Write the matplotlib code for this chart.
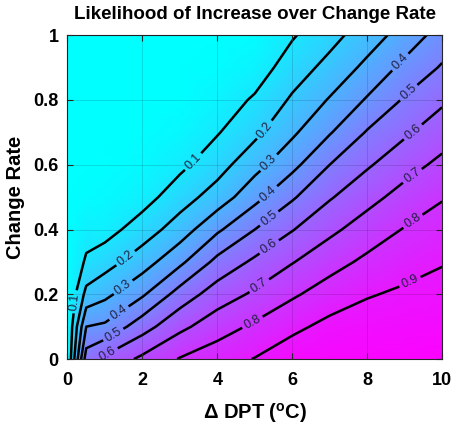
import matplotlib
matplotlib.use("Agg")
import matplotlib.pyplot as plt
import numpy as np

# delta DPT columns and change-rate rows of the likelihood grid
dpt = [0, 0.5, 1, 2, 3, 4, 5, 6, 7, 8, 9, 10]
rate = [0, 0.1, 0.2, 0.3, 0.4, 0.5, 0.6, 0.7, 0.8, 0.9, 1.0]

# likelihood, one list per dpt column (rate 0 -> 1)
lik_0 = [0, 0, 0, 0, 0, 0, 0, 0, 0, 0, 0]
lik_05 = [0.55, 0.40, 0.23, 0.115, 0.06, 0.01, 0, 0, 0, 0, 0]
lik_1 = [0.625, 0.418, 0.275, 0.16, 0.06, 0.02, 0, 0, 0, 0, 0]
lik_2 = [0.722, 0.558, 0.386, 0.253, 0.15, 0.059, 0.02, 0, 0, 0, 0]
lik_3 = [0.806, 0.676, 0.542, 0.377, 0.247, 0.156, 0.076, 0.03, 0, 0, 0]
lik_4 = [0.856, 0.756, 0.65, 0.529, 0.383, 0.244, 0.16, 0.093, 0.045, 0.01, 0]
lik_5 = [0.904, 0.817, 0.716, 0.619, 0.5, 0.368, 0.265, 0.177, 0.113, 0.048, 0.01]
lik_6 = [0.96, 0.877, 0.786, 0.695, 0.595, 0.488, 0.371, 0.283, 0.214, 0.15, 0.09]
lik_7 = [0.97, 0.928, 0.846, 0.763, 0.678, 0.591, 0.5, 0.392, 0.308, 0.231, 0.167]
lik_8 = [0.975, 0.945, 0.893, 0.821, 0.746, 0.668, 0.588, 0.508, 0.41, 0.325, 0.25]
lik_9 = [0.98, 0.95, 0.915, 0.865, 0.806, 0.736, 0.662, 0.585, 0.511, 0.426, 0.342]
lik_10 = [0.99, 0.959, 0.928, 0.895, 0.845, 0.793, 0.724, 0.655, 0.584, 0.51, 0.441]

levels = [0.1, 0.2, 0.3, 0.4, 0.5, 0.6, 0.7, 0.8, 0.9]

Z = np.array([lik_0, lik_05, lik_1, lik_2, lik_3, lik_4, lik_5, lik_6,
              lik_7, lik_8, lik_9, lik_10]).T
X, Y = np.meshgrid(dpt, rate)

plt.rcParams['font.family'] = ['Liberation Sans', 'DejaVu Sans']
plt.rcParams['mathtext.fontset'] = 'custom'
plt.rcParams['mathtext.rm'] = 'Liberation Sans'
plt.rcParams['mathtext.bf'] = 'Liberation Sans:bold'

fig = plt.figure(figsize=(4.53, 4.29), dpi=100)
ax = fig.add_axes([0.149, 0.163, 0.827, 0.755])

ax.pcolormesh(X, Y, Z, cmap='cool', vmin=0, vmax=1, shading='gouraud')
cs = ax.contour(X, Y, Z, levels=levels, colors='k', linewidths=1.8)

label_pos = [(0.2, 0.177), (1.63, 0.30), (1.54, 0.213), (1.41, 0.136),
             (1.23, 0.074), (1.05, 0.02),
             (3.35, 0.61), (5.35, 0.70), (5.43, 0.60), (5.4, 0.505),
             (5.41, 0.43), (5.41, 0.342), (5.14, 0.223), (4.93, 0.115),
             (8.9, 0.915), (9.09, 0.825), (9.23, 0.70), (9.19, 0.568),
             (9.23, 0.424), (9.14, 0.239)]
lbls = ax.clabel(cs, levels, inline=True, inline_spacing=3, fontsize=9,
                 colors='#202040', fmt='%.1f', manual=label_pos)

ax.set_xlim(0, 10)
ax.set_ylim(0, 1)
ax.set_xticks([0, 2, 4, 6, 8, 10])
ax.set_yticks([0, 0.2, 0.4, 0.6, 0.8, 1])
ax.set_yticklabels(['0', '0.2', '0.4', '0.6', '0.8', '1'])
ax.grid(True, color='k', alpha=0.15, linewidth=0.6)
ax.set_axisbelow(False)
ax.tick_params(direction='in', top=True, right=True, length=4,
               labelsize=13, color='#262626')
ax.tick_params(axis='x', pad=9)
ax.tick_params(axis='y', pad=6.5)
for t in ax.get_xticklabels() + ax.get_yticklabels():
    t.set_fontweight('bold')
for s in ax.spines.values():
    s.set_color('#262626')
    s.set_linewidth(0.8)

ax.set_title('Likelihood of Increase over Change Rate', fontsize=13.5,
             fontweight='bold', pad=12)
ax.set_xlabel(r'Δ DPT ($^{\mathbf{o}}$C)', fontsize=14.5, fontweight='bold',
              labelpad=9)
ax.set_ylabel('Change Rate', fontsize=14.5, fontweight='bold', labelpad=6)

fig.savefig('out.png', dpi=100)
